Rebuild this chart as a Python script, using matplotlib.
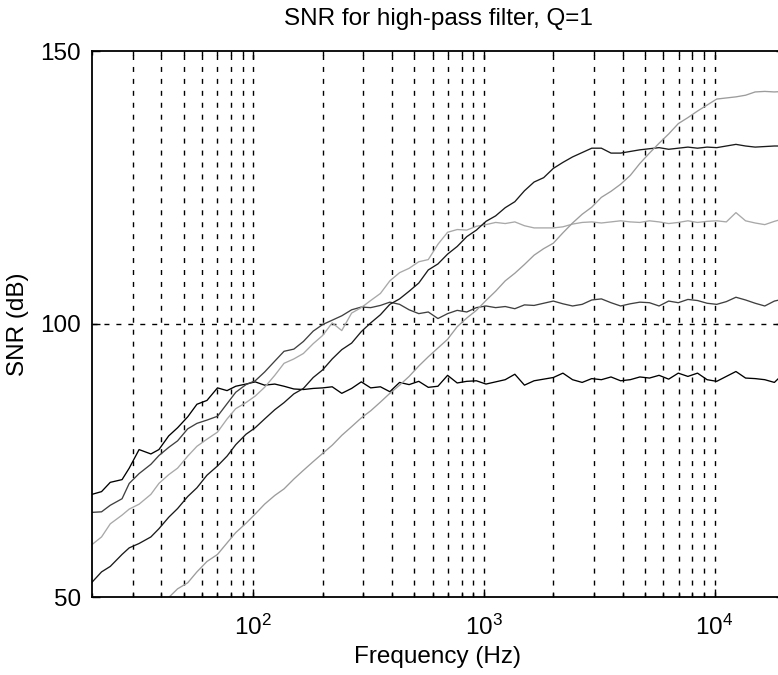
import numpy as np
import matplotlib
matplotlib.use("Agg")
from matplotlib import pyplot as plt
from matplotlib.ticker import LogLocator, NullFormatter

plt.rcParams["font.family"] = ["Liberation Sans", "DejaVu Sans"]
plt.rcParams["mathtext.fontset"] = "custom"
plt.rcParams["mathtext.rm"] = "Liberation Sans"
plt.rcParams["mathtext.default"] = "regular"
plt.rcParams["lines.scale_dashes"] = False

# frequency points (Hz)
freq = [20, 22, 24, 27, 29, 32, 36, 39, 43, 47, 52, 57, 63, 70, 77, 84, 93, 102,
        112, 124, 136, 150, 165, 182, 200, 220, 242, 267, 294, 323, 356, 391, 431,
        474, 522, 574, 632, 696, 766, 843, 928, 1021, 1124, 1237, 1362, 1499, 1650,
        1816, 2000, 2201, 2423, 2667, 2935, 3231, 3557, 3915, 4309, 4743, 5221, 5746,
        6325, 6962, 7663, 8434, 9283, 10218, 11246, 12379, 13625, 14997, 16507,
        18169, 20000]

# SNR (dB) for each curve
snr_a = [68.8, 69.3, 71.0, 71.5, 73.6, 77.0, 76.2, 77.0, 79.5, 81.0, 83.0, 85.3,
         86.0, 88.3, 87.8, 88.6, 89.0, 89.4, 88.8, 89.0, 88.6, 88.1, 88.0, 88.2,
         88.3, 88.5, 87.3, 88.2, 89.4, 88.3, 88.5, 87.6, 89.3, 88.9, 89.5, 88.4,
         88.6, 90.6, 89.2, 89.5, 89.6, 89.0, 89.4, 89.8, 90.8, 88.8, 89.6, 89.9,
         90.2, 91.0, 89.8, 89.3, 90.0, 89.8, 90.3, 89.6, 89.8, 90.3, 90.1, 90.6,
         89.9, 91.0, 90.4, 91.0, 89.8, 89.5, 90.4, 91.3, 90.1, 90.0, 89.8, 89.3, 91.0]

snr_b = [65.5, 65.6, 66.8, 68.0, 70.8, 72.6, 74.3, 75.9, 77.4, 78.6, 80.8, 81.8,
         82.4, 83.1, 85.4, 87.5, 88.9, 89.6, 91.2, 93.2, 95.0, 95.4, 96.8, 98.7,
         99.9, 100.7, 101.5, 102.6, 103.1, 103.0, 103.4, 104.0, 103.6, 102.6, 101.9,
         102.2, 101.0, 101.9, 102.5, 102.2, 103.0, 103.3, 103.0, 103.2, 102.8, 103.5,
         103.4, 103.8, 104.2, 103.7, 103.3, 103.6, 104.4, 104.6, 103.9, 103.3, 103.7,
         104.0, 103.9, 103.3, 104.2, 103.9, 104.5, 104.3, 103.8, 103.6, 104.1, 104.9,
         104.4, 103.8, 103.3, 104.2, 104.6]

snr_c = [59.6, 61.0, 63.4, 65.0, 66.1, 67.0, 68.8, 70.8, 72.4, 73.6, 75.8, 77.6,
         78.9, 80.2, 82.6, 84.5, 85.6, 86.8, 88.4, 90.6, 92.8, 93.6, 94.6, 96.4,
         97.9, 100.2, 98.8, 102.0, 103.0, 104.3, 105.6, 107.9, 109.4, 110.2, 111.4,
         111.8, 114.6, 116.8, 117.3, 117.2, 117.9, 118.2, 118.6, 118.4, 118.7, 118.0,
         117.6, 117.6, 117.6, 117.8, 118.3, 118.6, 118.7, 118.5, 118.7, 118.9, 118.7,
         118.6, 118.9, 118.7, 118.4, 118.6, 118.9, 118.6, 118.8, 118.9, 118.7, 120.4,
         118.9, 118.5, 118.2, 118.8, 119.3]

snr_d = [52.7, 54.6, 55.6, 57.8, 59.0, 59.8, 61.0, 62.5, 64.6, 66.2, 68.4, 70.0,
         72.3, 74.0, 75.8, 77.9, 79.8, 81.0, 82.6, 84.3, 85.6, 87.2, 88.2, 90.2,
         91.6, 93.6, 95.3, 96.5, 98.6, 100.2, 101.7, 103.6, 104.6, 106.0, 107.5,
         109.9, 111.0, 112.8, 114.2, 116.0, 117.2, 118.8, 119.8, 121.3, 122.4, 124.4,
         126.0, 126.8, 128.5, 129.6, 130.6, 131.4, 132.2, 132.2, 131.3, 131.3, 131.6,
         131.9, 132.1, 132.3, 132.0, 132.2, 132.4, 132.2, 132.4, 132.3, 132.6, 132.9,
         132.6, 132.4, 132.5, 132.6, 132.6]

snr_e = [36.5, 38.2, 39.8, 41.6, 43.2, 44.9, 46.6, 48.3, 49.9, 51.5, 52.6, 54.6,
         56.5, 57.8, 59.9, 61.8, 63.5, 65.2, 67.0, 68.6, 69.8, 71.6, 73.2, 74.8,
         76.3, 77.8, 79.6, 81.2, 82.8, 84.1, 85.7, 87.3, 88.8, 90.4, 92.3, 94.0,
         95.6, 97.2, 99.5, 101.1, 102.5, 104.3, 106.0, 107.9, 109.3, 110.9, 112.6,
         113.8, 114.8, 116.7, 118.5, 120.1, 121.4, 123.2, 124.3, 125.6, 127.2, 129.4,
         131.3, 133.1, 134.8, 136.7, 137.8, 139.0, 140.1, 141.2, 141.4, 141.6, 141.9,
         142.5, 142.6, 142.5, 142.6]

curves = [snr_a, snr_b, snr_c, snr_d, snr_e]
colors = ["#000000", "#404040", "#a8a8a8", "#1a1a1a", "#9c9c9c"]

fig = plt.figure(figsize=(7.78, 6.75), dpi=100)
ax = fig.add_axes([92 / 778, 78 / 675, 692 / 778, 546 / 675])

dash = (0, (3.6, 5.0))
for x in [30, 40, 50, 60, 70, 80, 90, 100, 200, 300, 400, 500, 600, 700, 800,
          900, 1000, 2000, 3000, 4000, 5000, 6000, 7000, 8000, 9000, 10000]:
    ax.axvline(x, color="k", lw=1.0, ls=dash, zorder=1)
ax.axhline(100, color="k", lw=1.0, ls=dash, zorder=1)

for y, c in zip(curves, colors):
    ax.plot(freq, y, color=c, lw=0.95, zorder=2)

ax.set_xscale("log")
ax.set_xlim(20, 20000)
ax.set_ylim(50, 150)
ax.set_yticks([50, 100, 150])
ax.xaxis.set_major_locator(LogLocator(base=10, numticks=10))
ax.xaxis.set_minor_locator(LogLocator(base=10, subs=np.arange(2, 10), numticks=20))
ax.xaxis.set_minor_formatter(NullFormatter())

ax.tick_params(which="both", direction="in", top=True, right=True,
               labelsize=17.5, width=1.0)
ax.tick_params(which="major", length=6, pad=8)
ax.tick_params(axis="x", which="major", pad=13)
ax.tick_params(which="minor", length=3)
for s in ax.spines.values():
    s.set_linewidth(1.3)

ax.set_title("SNR for high-pass filter, Q=1", fontsize=17.5, pad=19)
ax.set_xlabel("Frequency (Hz)", fontsize=17.5, labelpad=4)
ax.set_ylabel("SNR (dB)", fontsize=17.5, labelpad=8)

fig.savefig("out.png", dpi=100)
